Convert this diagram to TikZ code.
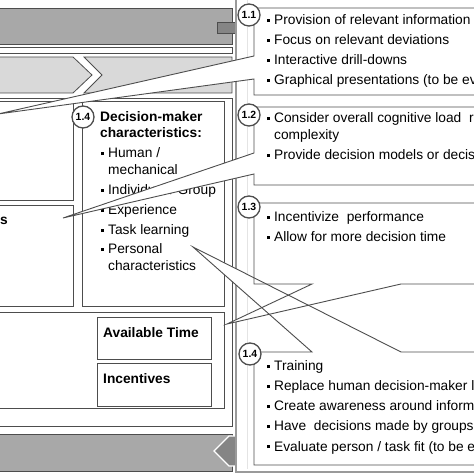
\documentclass[tikz,border=0pt]{standalone}
\usepackage{fontspec}
\setmainfont{Liberation Sans}
\definecolor{linegray}{HTML}{4D4D4D}
\definecolor{bargray}{HTML}{A8A8A8}
\definecolor{chevgray}{HTML}{D9D9D9}
\definecolor{arrowgray}{HTML}{858585}
\definecolor{panelgray}{HTML}{9A9A9A}
\definecolor{ghostgray}{HTML}{E4E4E4}
\newcommand{\bul}{\rule[3pt]{3pt}{3pt}\hspace{4pt}}
\begin{document}
\begin{tikzpicture}[
	txt/.style={anchor=base west,inner sep=0pt,font=\fontsize{13.8pt}{17pt}\selectfont},
	head/.style={anchor=base west,inner sep=0pt,font=\fontsize{13.8pt}{17pt}\selectfont\bfseries},
	numcirc/.style={draw=linegray,fill=white,circle,line width=1.3pt,minimum size=22bp,inner sep=0pt,font=\fontsize{10.5pt}{11pt}\selectfont\bfseries},
	frame/.style={draw=linegray,line width=0.8pt},
	callout/.style={draw=linegray,line width=0.9pt}]
		%%
  \useasboundingbox (0bp,0bp) rectangle (474bp,474bp);
  \clip (0bp,0bp) rectangle (474bp,474bp);
  \draw [frame,fill=bargray] (-5bp,430bp) rectangle (232bp,466bp);
  \draw [frame,fill=arrowgray] (217bp,441bp) rectangle (240bp,452bp);
  \draw [frame] (-5bp,421bp) rectangle (232bp,427bp);
  \draw [frame,fill=chevgray] (-5bp,417bp) -- (73bp,417bp) -- (92bp,399bp) -- (73bp,381bp) -- (-5bp,381bp) -- cycle;
  \draw [frame,fill=chevgray] (84bp,417bp) -- (232bp,417bp) -- (232bp,381bp) -- (84bp,381bp) -- (102bp,399bp) -- cycle;
  \draw [frame] (-5bp,48bp) rectangle (232bp,376bp);
  \draw [frame] (-5bp,274bp) rectangle (73bp,373bp);
  \draw [frame] (-5bp,168bp) rectangle (73bp,269bp);
  \draw [frame] (82bp,168bp) rectangle (224bp,373bp);
  \draw [frame] (-5bp,66bp) rectangle (224bp,162bp);
  \node (Time) [frame,anchor=north west,minimum width=114bp,minimum height=42bp] at (97bp,157bp) {};
  \node (Incent) [frame,anchor=north west,minimum width=114bp,minimum height=43bp] at (97bp,111bp) {};
  \draw [frame,fill=bargray] (-5bp,3bp) rectangle (232bp,40bp);
  \draw [white,line width=1.2pt,fill=arrowgray] (214bp,23bp) -- (229bp,38bp) -- (240bp,38bp) -- (240bp,8bp) -- (229bp,8bp) -- cycle;
  %
  \node (TasksEnd) [head,anchor=base east] at (8bp,249bp) {s};
  \node (LDM) [numcirc] at (83bp,357bp) {1.4};
  \node (DM1) [head] at (100bp,352bp) {Decision-maker};
  \node (DM2) [head] at (100bp,336bp) {characteristics:};
  \node (Human) [txt] at (101bp,316bp) {\bul Human /};
  \node (Mech) [txt] at (108bp,299bp) {mechanical};
  \node (Group) [txt] at (101bp,279bp) {\bul Individual / Group};
  \node (Exp) [txt] at (101bp,259bp) {\bul Experience};
  \node (Task) [txt] at (101bp,239bp) {\bul Task learning};
  \node (Pers) [txt] at (101bp,220bp) {\bul Personal};
  \node (Pers2) [txt] at (108bp,203bp) {characteristics};
  \node (TimeTxt) [head] at (103bp,136bp) {Available Time};
  \node (IncTxt) [head] at (103bp,90bp) {Incentives};
  %
  \draw [draw=panelgray,line width=1.6pt,fill=white] (236bp,2bp) rectangle (480bp,480bp);
  \draw [ghostgray] (247bp,5bp) -- (247bp,474bp);
  \coordinate (tipInfo) at (-2bp,360bp);
  \coordinate (tipTasks) at (63bp,256bp);
  \coordinate (tipTime) at (227bp,150bp);
  \coordinate (tipPers) at (193bp,227bp);
  \draw [callout,fill=white] (254bp,466bp) -- (480bp,466bp) -- (480bp,379bp) -- (254bp,379bp) -- (254bp,395bp) -- (tipInfo) -- (254bp,418bp) -- cycle;
  \draw [callout,fill=white] (254bp,367bp) -- (480bp,367bp) -- (480bp,289bp) -- (254bp,289bp) -- (254bp,300bp) -- (tipTasks) -- (254bp,321bp) -- cycle;
  \fill [white] (254bp,271bp) -- (480bp,271bp) -- (480bp,190bp) -- (401bp,190bp) -- (tipTime) -- (312bp,190bp) -- (254bp,190bp) -- cycle;
  \draw [callout,fill=white] (254bp,122bp) -- (312bp,122bp) -- (tipPers) -- (401bp,122bp) -- (480bp,122bp) -- (480bp,9bp) -- (254bp,9bp) -- cycle;
  \draw [callout] (254bp,271bp) -- (480bp,271bp) -- (480bp,190bp) -- (401bp,190bp) -- (tipTime) -- (312bp,190bp) -- (254bp,190bp) -- cycle;
  %
  \node (N11) [numcirc] at (249bp,459bp) {1.1};
  \node (N12) [numcirc] at (249bp,359bp) {1.2};
  \node (N13) [numcirc] at (249bp,267bp) {1.3};
  \node (N14) [numcirc] at (250bp,120bp) {1.4};
  \node (A1) [txt] at (267bp,449bp) {\bul Provision of relevant information};
  \node (A2) [txt] at (267bp,429bp) {\bul Focus on relevant deviations};
  \node (A3) [txt] at (267bp,409bp) {\bul Interactive drill-downs};
  \node (A4) [txt] at (267bp,389bp) {\bul Graphical presentations (to be ev};
  \node (B1) [txt] at (267bp,351bp) {\bul Consider overall cognitive load\ \ r};
  \node (B1b) [txt] at (274bp,334bp) {complexity};
  \node (B2) [txt] at (267bp,314bp) {\bul Provide decision models or decis};
  \node (C1) [txt] at (267bp,252bp) {\bul Incentivize\ \ performance};
  \node (C2) [txt] at (267bp,232bp) {\bul Allow for more decision time};
  \node (D1) [txt] at (267bp,103bp) {\bul Training};
  \node (D2) [txt] at (267bp,83bp) {\bul Replace human decision-maker l};
  \node (D3) [txt] at (267bp,63bp) {\bul Create awareness around inform};
  \node (D4) [txt] at (267bp,43bp) {\bul Have\ \ decisions made by groups};
  \node (D5) [txt] at (267bp,23bp) {\bul Evaluate person / task fit (to be e};
		%
	\end{tikzpicture}
\end{document}
